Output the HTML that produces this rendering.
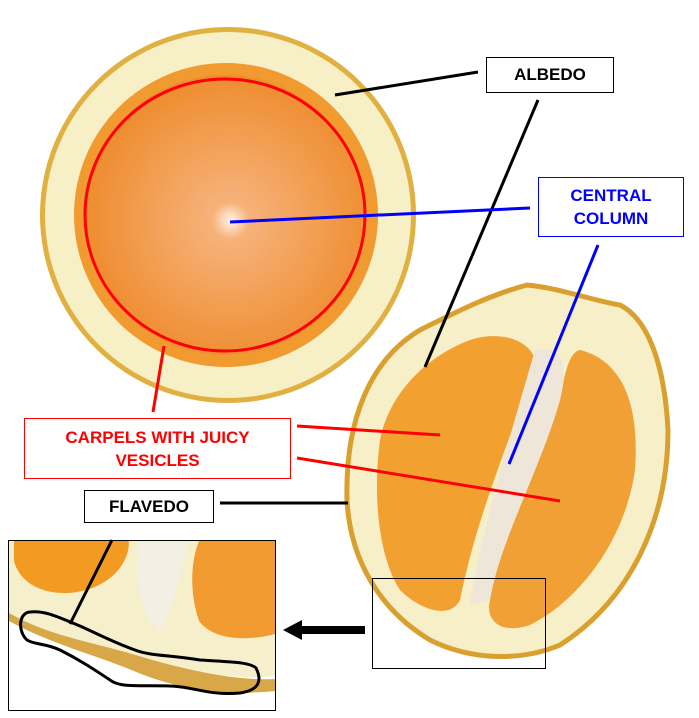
<!DOCTYPE html>
<html><head><style>
body{margin:0;background:#fff;width:699px;height:718px;overflow:hidden;font-family:"Liberation Sans",sans-serif}
.b{position:absolute;background:#fff;border:1px solid #000;font-weight:bold;font-size:17px;text-align:center;box-sizing:border-box}
</style></head><body>
<svg width="699" height="718" style="position:absolute;left:0;top:0">
<defs>
<radialGradient id="fl" cx="0.52" cy="0.52" r="0.55">
<stop offset="0" stop-color="#fff4ea"/><stop offset="0.12" stop-color="#f6b27a"/><stop offset="1" stop-color="#ee8a2a"/>
</radialGradient>
</defs>
<!-- top-left orange -->
<circle cx="228" cy="215" r="188" fill="#e0b040"/>
<circle cx="228" cy="215" r="183" fill="#f7efc6"/>
<circle cx="226" cy="215" r="152" fill="#f09a30"/>
<circle cx="225" cy="215" r="140" fill="url(#fl)"/>
<ellipse cx="225" cy="215" rx="140" ry="136" fill="none" stroke="#f00" stroke-width="3"/>
<!-- right orange -->
<path d="M527,285 C560,288 590,300 620,305 C650,320 665,370 668,430 C668,520 630,600 560,645 C520,662 470,660 430,640 C380,610 350,560 347,500 C345,420 370,360 420,330 C460,310 490,295 527,285Z" fill="#f6efc8" stroke="#d9a030" stroke-width="5"/>
<path d="M470,340 C500,330 530,340 535,360 C520,420 480,500 460,600 C450,620 420,610 400,590 C380,560 372,500 380,440 C390,390 430,355 470,340Z" fill="#f2a030"/>
<path d="M580,350 C620,360 640,400 635,470 C625,540 580,600 530,625 C500,635 485,620 490,600 C500,540 540,470 560,400 C565,370 570,352 580,350Z" fill="#f0a035"/>
<path d="M535,350 C560,345 570,360 560,400 C540,470 500,540 490,600 L470,605 C480,540 500,470 535,350Z" fill="#efe6da"/>
<rect x="372.5" y="578.5" width="173" height="90" fill="none" stroke="#000" stroke-width="1"/>
<!-- lines -->
<line x1="335" y1="95" x2="478" y2="72" stroke="#000" stroke-width="3"/>
<line x1="538" y1="100" x2="425" y2="367" stroke="#000" stroke-width="3"/>
<line x1="230" y1="222" x2="530" y2="208" stroke="#00f" stroke-width="3"/>
<line x1="598" y1="245" x2="509" y2="464" stroke="#00f" stroke-width="3"/>
<line x1="164" y1="346" x2="153" y2="412" stroke="#f00" stroke-width="3"/>
<line x1="297" y1="426" x2="440" y2="435" stroke="#f00" stroke-width="3"/>
<line x1="297" y1="458" x2="560" y2="501" stroke="#f00" stroke-width="3"/>
<line x1="220" y1="503" x2="348" y2="503" stroke="#000" stroke-width="3"/>
<!-- arrow -->
<rect x="300" y="626" width="65" height="8" fill="#000"/>
<polygon points="283,630 302,620 302,640" fill="#000"/>
<!-- inset -->
<rect x="8.5" y="540.5" width="267" height="170" fill="#fff" stroke="#000"/>
<svg x="9" y="541" width="266" height="169">
<path d="M0,0 H266 V135 C230,140 180,130 130,115 C80,100 40,95 0,72Z" fill="#f6efcc"/>
<path d="M0,72 C40,95 80,100 130,115 C180,130 230,140 266,138 L266,150 C220,155 170,150 120,128 C80,112 40,102 0,80Z" fill="#d8a848"/>
<path d="M5,0 H120 C120,30 90,52 55,52 C30,52 10,40 5,20Z" fill="#f29a22"/>
<path d="M190,0 H266 V93 C240,100 205,100 190,80 C180,50 182,20 190,0Z" fill="#f09a30"/>
<path d="M130,0 H180 C170,40 160,80 150,90 C130,70 125,40 130,0Z" fill="#f3efe2"/>
</svg>
<line x1="112" y1="540" x2="70" y2="624" stroke="#000" stroke-width="3"/>
<path d="M30,612 C45,610 60,618 80,626 C100,635 115,643 135,650 C150,656 170,655 200,660 C230,662 250,662 256,668 C262,680 260,690 240,693 C210,696 190,686 170,686 C140,685 120,688 110,680 C95,670 80,660 60,650 C45,643 35,645 27,640 C18,632 18,613 30,612Z" fill="none" stroke="#000" stroke-width="3"/>
</svg>
<div class="b" style="left:486px;top:57px;width:128px;height:36px;line-height:34px">ALBEDO</div>
<div class="b" style="left:538px;top:177px;width:146px;height:60px;border-color:#00f;color:#00f;line-height:23px;padding-top:6px">CENTRAL<br>COLUMN</div>
<div class="b" style="left:24px;top:418px;width:267px;height:61px;border-color:#f00;color:#f00;line-height:23px;padding-top:7px">CARPELS WITH JUICY<br>VESICLES</div>
<div class="b" style="left:84px;top:490px;width:130px;height:33px;line-height:31px">FLAVEDO</div>
</body></html>
